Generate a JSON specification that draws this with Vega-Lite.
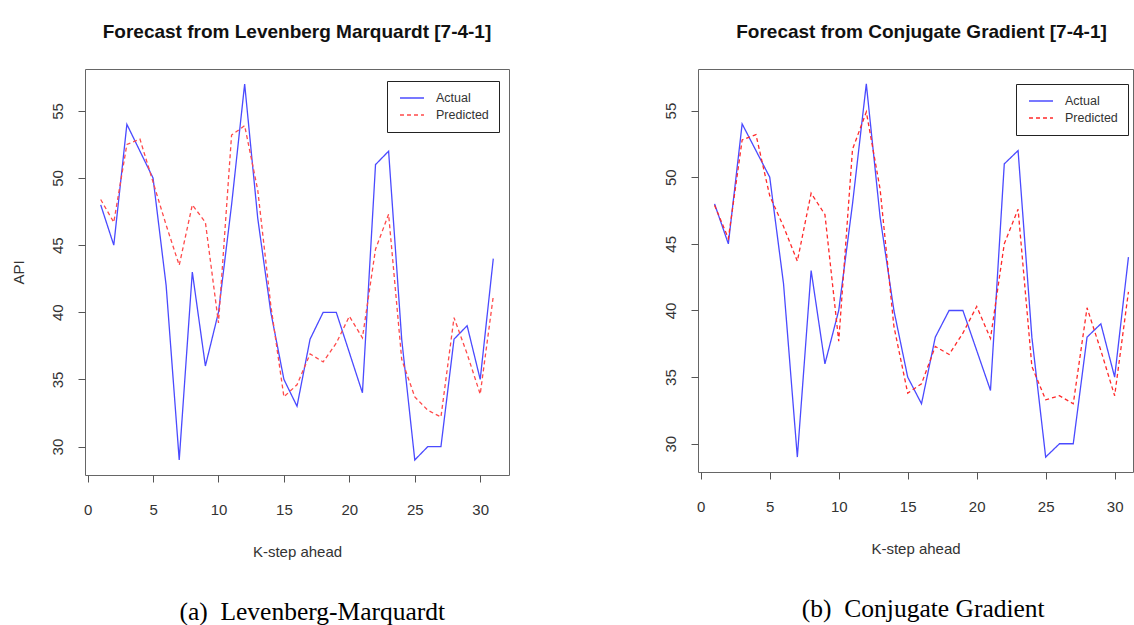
{
  "$schema": "https://vega.github.io/schema/vega-lite/v6.json",
  "padding": {"left": 11, "top": 22, "right": 0, "bottom": 0},
  "background": "white",
  "config": {
    "view": {"stroke": "#666", "strokeWidth": 1},
    "axis": {"domain": false, "grid": false, "tickColor": "#555", "tickSize": 7, "labelFont": "Liberation Sans", "labelFontSize": 15, "labelColor": "#333", "titleFont": "Liberation Sans", "titleFontSize": 15, "titleFontWeight": "normal", "titleColor": "#333"},
    "axisX": {"labelPadding": 20, "titlePadding": 27},
    "axisY": {"labelAngle": -90, "labelAlign": "center", "labelBaseline": "bottom", "labelPadding": 12.5, "titlePadding": 24},
    "title": {"font": "Liberation Sans", "fontSize": 19, "fontWeight": "bold", "color": "#111"},
    "legend": {"orient": "none", "title": null, "strokeColor": "#222", "strokeWidth": 1, "padding": 10, "symbolType": "M-0.667,0H3.333", "symbolSize": 144, "symbolStrokeWidth": 1.3, "labelFont": "Liberation Sans", "labelFontSize": 12.5, "labelColor": "#333", "rowPadding": 3, "labelOffset": 25, "fillColor": "white"}
  },
  "datasets": {
    "lm": [
      {"k":1,"s":"Actual","v":48},{"k":2,"s":"Actual","v":45},{"k":3,"s":"Actual","v":54},{"k":4,"s":"Actual","v":52},{"k":5,"s":"Actual","v":50},{"k":6,"s":"Actual","v":42},{"k":7,"s":"Actual","v":29},{"k":8,"s":"Actual","v":43},{"k":9,"s":"Actual","v":36},{"k":10,"s":"Actual","v":40},{"k":11,"s":"Actual","v":48},{"k":12,"s":"Actual","v":57},{"k":13,"s":"Actual","v":47},{"k":14,"s":"Actual","v":40},{"k":15,"s":"Actual","v":35},{"k":16,"s":"Actual","v":33},{"k":17,"s":"Actual","v":38},{"k":18,"s":"Actual","v":40},{"k":19,"s":"Actual","v":40},{"k":20,"s":"Actual","v":37},{"k":21,"s":"Actual","v":34},{"k":22,"s":"Actual","v":51},{"k":23,"s":"Actual","v":52},{"k":24,"s":"Actual","v":38},{"k":25,"s":"Actual","v":29},{"k":26,"s":"Actual","v":30},{"k":27,"s":"Actual","v":30},{"k":28,"s":"Actual","v":38},{"k":29,"s":"Actual","v":39},{"k":30,"s":"Actual","v":35},{"k":31,"s":"Actual","v":44},
      {"k":1,"s":"Predicted","v":48.4},{"k":2,"s":"Predicted","v":46.7},{"k":3,"s":"Predicted","v":52.5},{"k":4,"s":"Predicted","v":52.9},{"k":5,"s":"Predicted","v":49.7},{"k":6,"s":"Predicted","v":46.5},{"k":7,"s":"Predicted","v":43.5},{"k":8,"s":"Predicted","v":48.0},{"k":9,"s":"Predicted","v":46.7},{"k":10,"s":"Predicted","v":39.2},{"k":11,"s":"Predicted","v":53.2},{"k":12,"s":"Predicted","v":53.9},{"k":13,"s":"Predicted","v":49.1},{"k":14,"s":"Predicted","v":40.5},{"k":15,"s":"Predicted","v":33.7},{"k":16,"s":"Predicted","v":34.6},{"k":17,"s":"Predicted","v":36.9},{"k":18,"s":"Predicted","v":36.3},{"k":19,"s":"Predicted","v":37.7},{"k":20,"s":"Predicted","v":39.7},{"k":21,"s":"Predicted","v":38.1},{"k":22,"s":"Predicted","v":44.7},{"k":23,"s":"Predicted","v":47.3},{"k":24,"s":"Predicted","v":36.5},{"k":25,"s":"Predicted","v":33.7},{"k":26,"s":"Predicted","v":32.7},{"k":27,"s":"Predicted","v":32.2},{"k":28,"s":"Predicted","v":39.6},{"k":29,"s":"Predicted","v":36.9},{"k":30,"s":"Predicted","v":33.9},{"k":31,"s":"Predicted","v":41.2}
    ],
    "cg": [
      {"k":1,"s":"Actual","v":48},{"k":2,"s":"Actual","v":45},{"k":3,"s":"Actual","v":54},{"k":4,"s":"Actual","v":52},{"k":5,"s":"Actual","v":50},{"k":6,"s":"Actual","v":42},{"k":7,"s":"Actual","v":29},{"k":8,"s":"Actual","v":43},{"k":9,"s":"Actual","v":36},{"k":10,"s":"Actual","v":40},{"k":11,"s":"Actual","v":48},{"k":12,"s":"Actual","v":57},{"k":13,"s":"Actual","v":47},{"k":14,"s":"Actual","v":40},{"k":15,"s":"Actual","v":35},{"k":16,"s":"Actual","v":33},{"k":17,"s":"Actual","v":38},{"k":18,"s":"Actual","v":40},{"k":19,"s":"Actual","v":40},{"k":20,"s":"Actual","v":37},{"k":21,"s":"Actual","v":34},{"k":22,"s":"Actual","v":51},{"k":23,"s":"Actual","v":52},{"k":24,"s":"Actual","v":38},{"k":25,"s":"Actual","v":29},{"k":26,"s":"Actual","v":30},{"k":27,"s":"Actual","v":30},{"k":28,"s":"Actual","v":38},{"k":29,"s":"Actual","v":39},{"k":30,"s":"Actual","v":35},{"k":31,"s":"Actual","v":44},
      {"k":1,"s":"Predicted","v":47.9},{"k":2,"s":"Predicted","v":45.4},{"k":3,"s":"Predicted","v":52.8},{"k":4,"s":"Predicted","v":53.2},{"k":5,"s":"Predicted","v":48.6},{"k":6,"s":"Predicted","v":46.3},{"k":7,"s":"Predicted","v":43.7},{"k":8,"s":"Predicted","v":48.8},{"k":9,"s":"Predicted","v":47.2},{"k":10,"s":"Predicted","v":37.7},{"k":11,"s":"Predicted","v":52.1},{"k":12,"s":"Predicted","v":54.9},{"k":13,"s":"Predicted","v":49.1},{"k":14,"s":"Predicted","v":38.8},{"k":15,"s":"Predicted","v":33.8},{"k":16,"s":"Predicted","v":34.5},{"k":17,"s":"Predicted","v":37.3},{"k":18,"s":"Predicted","v":36.7},{"k":19,"s":"Predicted","v":38.3},{"k":20,"s":"Predicted","v":40.3},{"k":21,"s":"Predicted","v":37.9},{"k":22,"s":"Predicted","v":45.0},{"k":23,"s":"Predicted","v":47.6},{"k":24,"s":"Predicted","v":35.8},{"k":25,"s":"Predicted","v":33.3},{"k":26,"s":"Predicted","v":33.6},{"k":27,"s":"Predicted","v":33.0},{"k":28,"s":"Predicted","v":40.2},{"k":29,"s":"Predicted","v":37.0},{"k":30,"s":"Predicted","v":33.6},{"k":31,"s":"Predicted","v":41.4}
    ]
  },
  "spacing": 153,
  "hconcat": [
    {
      "title": {"text": "(a)\u00a0 Levenberg-Marquardt", "orient": "bottom", "font": "Liberation Serif", "fontSize": 25.5, "fontWeight": "normal", "color": "#000", "offset": 40, "frame": "bounds", "anchor": "middle", "dx": 52},
      "vconcat": [
        {
          "title": {"text": "Forecast from Levenberg Marquardt [7-4-1]", "offset": 27, "frame": "group", "anchor": "middle"},
          "width": 424,
          "height": 406,
          "data": {"name": "lm"},
          "mark": {"type": "line", "strokeWidth": 1.3},
          "encoding": {
            "x": {"field": "k", "type": "quantitative", "scale": {"domain": [-0.2, 32.2], "nice": false, "zero": false}, "axis": {"title": "K-step ahead", "values": [0, 5, 10, 15, 20, 25, 30]}},
            "y": {"field": "v", "type": "quantitative", "scale": {"domain": [27.88, 58.12], "nice": false, "zero": false}, "axis": {"title": "API", "values": [30, 35, 40, 45, 50, 55]}},
            "color": {"field": "s", "type": "nominal", "scale": {"domain": ["Actual", "Predicted"], "range": ["#4a4aff", "#ff4a4a"]}, "legend": {"legendX": 302, "legendY": 12}},
            "strokeDash": {"field": "s", "type": "nominal", "scale": {"domain": ["Actual", "Predicted"], "range": [[1, 0], [4, 3]]}, "legend": {"legendX": 302, "legendY": 12}}
          }
        }
      ]
    },
    {
      "title": {"text": "(b)\u00a0 Conjugate Gradient", "orient": "bottom", "font": "Liberation Serif", "fontSize": 25.5, "fontWeight": "normal", "color": "#000", "offset": 40, "frame": "bounds", "anchor": "middle", "dx": 25},
      "vconcat": [
        {
          "title": {"text": "Forecast from Conjugate Gradient [7-4-1]", "offset": 27, "frame": "group", "anchor": "middle", "dx": 6},
          "width": 435,
          "height": 403,
          "data": {"name": "cg"},
          "mark": {"type": "line", "strokeWidth": 1.3},
          "encoding": {
            "x": {"field": "k", "type": "quantitative", "scale": {"domain": [-0.2, 31.33], "nice": false, "zero": false}, "axis": {"title": "K-step ahead", "values": [0, 5, 10, 15, 20, 25, 30]}},
            "y": {"field": "v", "type": "quantitative", "scale": {"domain": [27.88, 58.12], "nice": false, "zero": false}, "axis": {"title": null, "values": [30, 35, 40, 45, 50, 55]}},
            "color": {"field": "s", "type": "nominal", "scale": {"domain": ["Actual", "Predicted"], "range": ["#4a4aff", "#ff2a2a"]}, "legend": {"legendX": 318, "legendY": 15}},
            "strokeDash": {"field": "s", "type": "nominal", "scale": {"domain": ["Actual", "Predicted"], "range": [[1, 0], [4, 3]]}, "legend": {"legendX": 318, "legendY": 15}}
          }
        }
      ]
    }
  ],
  "resolve": {"scale": {"color": "independent", "strokeDash": "independent"}}
}
